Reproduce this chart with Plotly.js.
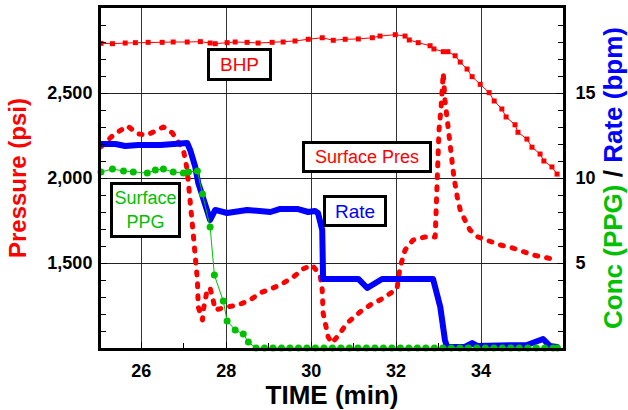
<!DOCTYPE html>
<html>
<head>
<meta charset="utf-8">
<script src="https://cdn.plot.ly/plotly-3.0.1.min.js"></script>
<style>
html,body{margin:0;padding:0;background:#fff;}
#chart{width:628px;height:410px;}
#chart .scatterlayer path.js-line{stroke-linecap:round;stroke-linejoin:round;}
</style>
</head>
<body>
<div id="chart"></div>
<script>
// ---- Data ----
const bhpTime = [25.05, 25.32, 25.62, 25.86, 26.16, 26.49, 26.75, 27.08, 27.39, 27.62, 27.74, 28.02, 28.21, 28.49, 28.75, 29.08, 29.34, 29.62, 29.93, 30.26, 30.52, 30.80, 31.11, 31.44, 31.62, 31.98, 32.21, 32.31, 32.52, 32.80, 32.89, 33.11, 33.22, 33.39, 33.51, 33.67, 33.79, 33.98, 34.19, 34.31, 34.49, 34.59, 34.80, 34.87, 35.08, 35.20, 35.39, 35.48, 35.67, 35.79];
const bhpPsi = [2792, 2790, 2794, 2796, 2798, 2798, 2800, 2800, 2802, 2794, 2790, 2796, 2800, 2798, 2794, 2798, 2800, 2806, 2816, 2825, 2810, 2816, 2818, 2825, 2835, 2843, 2835, 2812, 2796, 2778, 2759, 2743, 2743, 2719, 2682, 2641, 2596, 2551, 2502, 2453, 2406, 2359, 2313, 2269, 2229, 2181, 2141, 2100, 2065, 2023];

const surfPresTime = [25.05, 25.34, 25.67, 25.93, 26.14, 26.52, 26.73, 26.99, 27.08, 27.15, 27.22, 27.32, 27.34, 27.44, 27.46, 27.55, 27.62, 27.69, 27.74, 28.02, 28.28, 28.56, 28.80, 29.04, 29.27, 29.58, 29.81, 30.02, 30.21, 30.26, 30.28, 30.40, 30.49, 30.61, 30.85, 31.15, 31.46, 31.62, 31.81, 32.02, 32.09, 32.21, 32.40, 32.68, 32.92, 32.94, 32.96, 32.99, 33.01, 33.06, 33.11, 33.15, 33.20, 33.29, 33.36, 33.44, 33.51, 33.62, 33.74, 33.93, 34.21, 34.45, 34.75, 34.99, 35.22, 35.46, 35.79];
const surfPresPsi = [2184, 2253, 2306, 2259, 2253, 2300, 2265, 2165, 2047, 1888, 1676, 1400, 1241, 1165, 1224, 1341, 1353, 1282, 1224, 1241, 1253, 1282, 1324, 1347, 1371, 1418, 1465, 1488, 1429, 1341, 1206, 1065, 1029, 1065, 1147, 1212, 1265, 1282, 1312, 1347, 1471, 1576, 1635, 1653, 1653, 1794, 1947, 2147, 2282, 2418, 2618, 2459, 2341, 2147, 2006, 1888, 1812, 1753, 1694, 1653, 1624, 1606, 1588, 1565, 1547, 1535, 1518];

const rateTime = [25.05, 25.39, 25.62, 25.93, 26.45, 27.08, 27.15, 27.27, 27.34, 27.46, 27.62, 27.74, 28.02, 28.49, 29.04, 29.27, 29.67, 29.93, 30.09, 30.16, 30.26, 30.28, 31.11, 31.32, 31.67, 32.87, 33.04, 33.15, 33.20, 33.62, 33.79, 33.91, 35.08, 35.46, 35.62, 35.79];
const rateBpm = [12.0, 12.0, 11.88, 11.94, 11.94, 12.06, 11.65, 10.65, 9.71, 8.88, 7.53, 8.12, 7.94, 8.12, 8.0, 8.18, 8.18, 8.0, 8.06, 7.94, 6.94, 4.06, 4.06, 3.53, 4.06, 4.06, 2.41, 0.47, 0.06, 0.06, 0.29, 0.12, 0.18, 0.53, 0.12, 0.06];

const ppgTime = [25.05, 25.32, 25.58, 25.81, 26.14, 26.33, 26.52, 26.75, 26.99, 27.11, 27.32, 27.44, 27.62, 27.72, 27.93, 28.02, 28.21, 28.40, 28.52, 28.70, 28.90, 29.10, 29.30, 29.50, 29.70, 29.90, 30.10, 30.30, 30.50, 30.70, 30.90, 31.10, 31.30, 31.50, 31.70, 31.90, 32.10, 32.30, 32.50, 32.70, 32.90, 33.10, 33.30, 33.50, 33.70, 33.90, 34.10, 34.30, 34.50, 34.70, 34.90, 35.10, 35.30, 35.50, 35.70, 35.80];
const ppgConc = [10.35, 10.53, 10.41, 10.35, 10.29, 10.47, 10.53, 10.35, 10.29, 10.35, 10.41, 9.06, 7.12, 4.29, 2.76, 1.59, 1.06, 0.82, 0.35, 0, 0, 0, 0, 0, 0, 0, 0, 0, 0, 0, 0, 0, 0, 0, 0, 0, 0, 0, 0, 0, 0, 0, 0, 0, 0, 0, 0, 0, 0, 0, 0, 0, 0, 0, 0, 0];

const xTickVals = [26, 28, 30, 32, 34];
const xTickText = ['26', '28', '30', '32', '34'];
const yTickVals = [1500, 2000, 2500];
const yTickText = ['1,500', '2,000', '2,500'];
const y2TickVals = [5, 10, 15];
const y2TickText = ['5', '10', '15'];

// ---- Traces ----
const traces = [
  {x: bhpTime, y: bhpPsi, name: 'BHP', type: 'scatter', mode: 'lines+markers',
   line: {color: '#ff0000', width: 1}, marker: {symbol: 'square', size: 5, color: '#ff0000'}, yaxis: 'y'},
  {x: surfPresTime, y: surfPresPsi, name: 'Surface Pres', type: 'scatter', mode: 'lines',
   line: {color: '#ff0000', width: 5, dash: '3px,9px'}, yaxis: 'y'},
  {x: rateTime, y: rateBpm, name: 'Rate', type: 'scatter', mode: 'lines',
   line: {color: '#0000ff', width: 6}, yaxis: 'y2'},
  {x: ppgTime, y: ppgConc, name: 'Surface PPG', type: 'scatter', mode: 'lines+markers',
   line: {color: '#00c000', width: 1}, marker: {symbol: 'circle', size: 7, color: '#00c000'},
   cliponaxis: false, yaxis: 'y2'}
];

const tickFont = {family: 'Liberation Sans, Arial, sans-serif', size: 18, weight: 'bold', color: '#000'};
const boxFont = 'Liberation Sans, Arial, sans-serif';

const layout = {
  width: 628, height: 410,
  margin: {l: 101, r: 65, t: 8, b: 62, pad: 0},
  paper_bgcolor: '#fff', plot_bgcolor: '#fff',
  showlegend: false,
  font: {family: 'Liberation Sans, Arial, sans-serif', color: '#000'},
  xaxis: {
    range: [25.05, 35.93], tickmode: 'array', tickvals: xTickVals, ticktext: xTickText,
    ticks: 'inside', ticklen: 6, tickwidth: 1, tickcolor: '#000', tickfont: tickFont,
    ticklabelstandoff: 4,
    showgrid: true, gridcolor: '#333', gridwidth: 1, zeroline: false,
    showline: true, linewidth: 3, linecolor: '#000', mirror: true,
    minor: {tickmode: 'linear', tick0: 25, dtick: 1, ticks: 'inside', ticklen: 5, tickcolor: '#000', showgrid: false},
    title: {text: 'TIME (min)', font: {size: 26, weight: 'bold', color: '#000'}, standoff: 10}
  },
  yaxis: {
    range: [1000, 3000], tickmode: 'array', tickvals: yTickVals, ticktext: yTickText,
    ticks: 'inside', ticklen: 6, tickwidth: 1, tickcolor: '#000', tickfont: tickFont,
    ticklabelstandoff: 2,
    showgrid: true, gridcolor: '#222', gridwidth: 1, zeroline: false,
    showline: true, linewidth: 3, linecolor: '#000', mirror: true,
    minor: {tickmode: 'linear', tick0: 1000, dtick: 100, ticks: 'inside', ticklen: 5, tickcolor: '#000', showgrid: false},
    title: {text: 'Pressure (psi)', font: {size: 24, weight: 'bold', color: '#ff0000'}, standoff: 14}
  },
  yaxis2: {
    range: [0, 20], overlaying: 'y', side: 'right', tickmode: 'array', tickvals: y2TickVals, ticktext: y2TickText,
    ticks: 'inside', ticklen: 6, tickwidth: 1, tickcolor: '#000', tickfont: tickFont,
    ticklabelstandoff: 6,
    showgrid: false, zeroline: false,
    showline: true, linewidth: 3, linecolor: '#000',
    minor: {tickmode: 'linear', tick0: 0, dtick: 1, ticks: 'inside', ticklen: 5, tickcolor: '#000', showgrid: false},
    title: {text: '<span style="color:#00c000">Conc (PPG)</span> / <span style="color:#0000ff">Rate (bpm)</span>',
            font: {size: 26, weight: 'bold', color: '#000'}, standoff: 10}
  },
  annotations: [
    {x: 28.318, y: 2668, xref: 'x', yref: 'y', text: 'BHP', showarrow: false,
     font: {family: boxFont, size: 19, color: '#ff0000'}, bgcolor: '#fff', bordercolor: '#000',
     borderwidth: 3, borderpad: 0, width: 59, height: 27, xanchor: 'center', yanchor: 'middle'},
    {x: 31.318, y: 2124, xref: 'x', yref: 'y', text: 'Surface Pres', showarrow: false,
     font: {family: boxFont, size: 18, color: '#ff0000'}, bgcolor: '#fff', bordercolor: '#000',
     borderwidth: 3, borderpad: 0, width: 124, height: 26, xanchor: 'center', yanchor: 'middle'},
    {x: 26.106, y: 1812, xref: 'x', yref: 'y', text: 'Surface<br>PPG', showarrow: false,
     font: {family: boxFont, size: 18, color: '#00c000'}, bgcolor: '#fff', bordercolor: '#000',
     borderwidth: 3, borderpad: 0, width: 65, height: 50, xanchor: 'center', yanchor: 'middle'},
    {x: 31.035, y: 1806, xref: 'x', yref: 'y', text: 'Rate', showarrow: false,
     font: {family: boxFont, size: 19, color: '#0000ff'}, bgcolor: '#fff', bordercolor: '#000',
     borderwidth: 3, borderpad: 0, width: 58, height: 26, xanchor: 'center', yanchor: 'middle'}
  ]
};

Plotly.newPlot('chart', traces, layout, {displayModeBar: false, staticPlot: true});
</script>
</body>
</html>
